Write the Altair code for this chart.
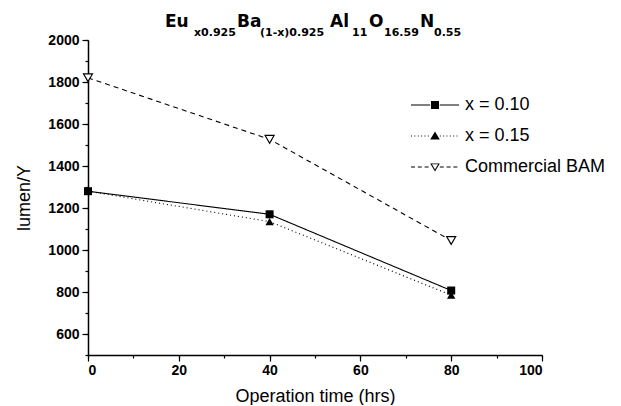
import altair as alt
import pandas as pd

# ---- data ----
series_names = ["x = 0.10", "x = 0.15", "Commercial BAM"]
time_hrs = [0, 40, 80]
lumen_x010 = [1280, 1170, 807]
lumen_x015 = [1280, 1135, 785]
lumen_bam = [1820, 1527, 1045]

y_major = [600, 800, 1000, 1200, 1400, 1600, 1800, 2000]
y_minor = list(range(500, 2001, 100))
x_major = [0, 20, 40, 60, 80, 100]
x_minor = list(range(0, 101, 10))

rows = []
for name, vals in zip(series_names, [lumen_x010, lumen_x015, lumen_bam]):
    for t, v in zip(time_hrs, vals):
        rows.append({"series": name, "time": t, "lumen": v})
df = pd.DataFrame(rows)

FONT = "Liberation Sans"
TFONT = "DejaVu Sans"

# ---- legend symbol paths built from filled shapes, unit = sqrt(size)/2 ----
H = 0.065  # half thickness of the legend line

def rect(x0, x1):
    return f"M{x0:.2f},{-H}L{x1:.2f},{-H}L{x1:.2f},{H}L{x0:.2f},{H}Z"

def seg_line(style, x0, x1):
    if style == "solid":
        return rect(x0, x1)
    dash, gap = (0.12, 0.3) if style == "dot" else (0.5, 0.35)
    parts = []
    x = x0
    while x < x1:
        e = min(x + dash, x1)
        parts.append(rect(x, e))
        x = e + gap
    return "".join(parts)

def legend_path(style, marker):
    left = seg_line(style, -3.0, -0.6)
    right = seg_line(style, 0.6, 3.0)
    if marker == "square":
        m = "M-0.5,-0.5L0.5,-0.5L0.5,0.5L-0.5,0.5Z"
    elif marker == "up":
        m = "M0,-0.55L0.6,0.45L-0.6,0.45Z"
    else:
        # open triangle: outer outline with an inner hole of opposite winding
        m = "M-0.6,-0.45L0.6,-0.45L0,0.55ZM-0.38,-0.33L0,0.3L0.38,-0.33Z"
    return m + left + right

legend_paths = [
    legend_path("solid", "square"),
    legend_path("dot", "up"),
    legend_path("dash", "down"),
]

x_scale = alt.Scale(domain=[0, 100], nice=False, zero=False)
y_scale = alt.Scale(domain=[500, 2000], nice=False, zero=False)

x_enc = alt.X("time:Q", scale=x_scale,
              axis=alt.Axis(values=x_major, title="Operation time (hrs)", format="d",
                            orient="bottom", grid=False, tickSize=6, labelPadding=2,
                            titlePadding=10))
y_enc = alt.Y("lumen:Q", scale=y_scale,
              axis=alt.Axis(values=y_major, title="lumen/Y", format="d", orient="left",
                            grid=False, tickSize=6, labelPadding=3, titlePadding=14))
x_noaxis = alt.X("time:Q", scale=x_scale, axis=None)
y_noaxis = alt.Y("lumen:Q", scale=y_scale, axis=None)

base = alt.Chart(df)

line_styles = [[1, 0], [1, 3], [5, 4]]
line_layers = []
for i, (name, dash) in enumerate(zip(series_names, line_styles)):
    line_layers.append(
        base.transform_filter(alt.datum.series == name).mark_line(
            color="black", strokeWidth=1.1, strokeDash=dash
        ).encode(x=x_enc if i == 0 else x_noaxis, y=y_enc if i == 0 else y_noaxis)
    )

pt_sq = base.transform_filter(alt.datum.series == series_names[0]).mark_point(
    shape="square", filled=True, size=64, color="black", opacity=1).encode(x=x_noaxis, y=y_noaxis)
pt_up = base.transform_filter(alt.datum.series == series_names[1]).mark_point(
    shape="triangle-up", filled=True, size=70, color="black", opacity=1).encode(x=x_noaxis, y=y_noaxis)
pt_dn = base.transform_filter(alt.datum.series == series_names[2]).mark_point(
    shape="triangle-down", filled=True, size=80, color="white", stroke="black",
    strokeWidth=1.2, opacity=1).encode(x=x_noaxis, y=y_noaxis)

leg = alt.Legend(title=None, orient="none", legendX=338, legendY=56,
                 symbolSize=256, symbolStrokeWidth=0, symbolOpacity=1,
                 labelFont=FONT, labelFontSize=18, labelColor="black",
                 labelOffset=21, rowPadding=13)

legend_layer = base.transform_filter("false").mark_point(
    filled=False, stroke="black", strokeWidth=1, opacity=1).encode(
    x=alt.X("time:Q", scale=x_scale, axis=alt.Axis(values=x_minor, orient="bottom", labels=False,
                                    domain=False, grid=False, tickSize=3, title=None)),
    y=alt.Y("lumen:Q", scale=y_scale, axis=alt.Axis(values=y_minor, orient="left", labels=False,
                                     domain=False, grid=False, tickSize=3, title=None)),
    shape=alt.Shape("series:N", scale=alt.Scale(domain=series_names, range=legend_paths), legend=leg),
    fill=alt.Fill("series:N", scale=alt.Scale(domain=series_names, range=["black", "black", "black"]),
                  legend=leg),
)

# ---- title with subscripts ----
title_parts = [
    ("Eu", False, 77), ("x0.925", True, 106), ("Ba", False, 149), ("(1-x)0.925", True, 172),
    ("Al", False, 242), ("11", True, 264), ("O", False, 281), ("16.59", True, 296),
    ("N", False, 332), ("0.55", True, 346),
]
title_layers = []
for txt, sub, px in title_parts:
    title_layers.append(
        alt.Chart(pd.DataFrame({"t": [txt]})).mark_text(
            align="left", baseline="alphabetic", font=TFONT, fontWeight="bold",
            fontSize=11 if sub else 17, color="black",
        ).encode(x=alt.value(px), y=alt.value(-4 if sub else -13), text="t:N")
    )

chart = alt.layer(*line_layers, pt_sq, pt_up, pt_dn, legend_layer, *title_layers).resolve_axis(
    x="independent", y="independent"
).properties(
    width=454, height=315, padding={"left": 7, "top": 5, "right": 0, "bottom": 0}
).configure_view(stroke=None).configure_axis(
    domainColor="black", domainWidth=1.5, tickColor="black", tickWidth=1.2,
    labelFont=FONT, labelFontSize=14, labelFontWeight="bold", labelColor="black",
    titleFont=FONT, titleFontSize=18, titleFontWeight="normal", titleColor="black",
)

chart.save("out.html", embed_options={"renderer": "svg", "actions": False})
